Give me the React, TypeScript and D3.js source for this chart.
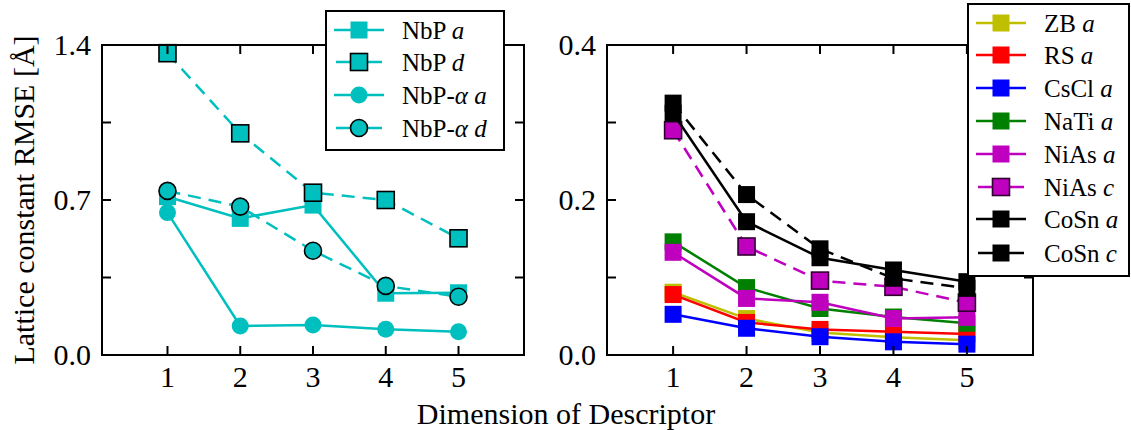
import React from "react";
import * as d3 from "d3";

// ---------- data ----------
const dims = [1, 2, 3, 4, 5];

// left panel (NbP)
const nbpA = [0.715, 0.617, 0.677, 0.279, 0.281];
const nbpD = [1.363, 1.001, 0.733, 0.7, 0.527];
const nbpAlphaA = [0.643, 0.131, 0.135, 0.116, 0.105];
const nbpAlphaD = [0.741, 0.67, 0.471, 0.312, 0.263];

// right panel
const zbA = [0.081, 0.047, 0.029, 0.023, 0.019];
const rsA = [0.078, 0.042, 0.033, 0.03, 0.027];
const csclA = [0.0525, 0.0345, 0.0236, 0.017, 0.014];
const natiA = [0.146, 0.087, 0.06, 0.049, 0.041];
const niasA = [0.1325, 0.073, 0.068, 0.047, 0.0486];
const niasC = [0.29, 0.14, 0.096, 0.088, 0.0675];
const cosnA = [0.312, 0.172, 0.1255, 0.1097, 0.0946];
const cosnC = [0.325, 0.207, 0.137, 0.099, 0.086];

const leftYTicks = [0, 0.35, 0.7, 1.05, 1.4];
const leftYLabels = ["0.0", "", "0.7", "", "1.4"];
const rightYTicks = [0, 0.1, 0.2, 0.3, 0.4];
const rightYLabels = ["0.0", "", "0.2", "", "0.4"];
const xTickLabels = ["1", "2", "3", "4", "5"];

const xLabel = "Dimension of Descriptor";
const yLabel = "Lattice constant RMSE [Å]";

type Series = {
  name: string;
  italic: string;
  values: number[];
  color: string;
  dashed: boolean;
  marker: "square" | "circle";
  edge: string | null;
};

const CYAN = "#00bfbf";
const leftSeries: Series[] = [
  { name: "NbP ", italic: "a", values: nbpA, color: CYAN, dashed: false, marker: "square", edge: null },
  { name: "NbP ", italic: "d", values: nbpD, color: CYAN, dashed: true, marker: "square", edge: "#000" },
  { name: "NbP-", italic: "α a", values: nbpAlphaA, color: CYAN, dashed: false, marker: "circle", edge: null },
  { name: "NbP-", italic: "α d", values: nbpAlphaD, color: CYAN, dashed: true, marker: "circle", edge: "#000" },
];

const rightSeries: Series[] = [
  { name: "ZB ", italic: "a", values: zbA, color: "#bfbf00", dashed: false, marker: "square", edge: null },
  { name: "RS ", italic: "a", values: rsA, color: "#ff0000", dashed: false, marker: "square", edge: null },
  { name: "CsCl ", italic: "a", values: csclA, color: "#0000ff", dashed: false, marker: "square", edge: null },
  { name: "NaTi ", italic: "a", values: natiA, color: "#008000", dashed: false, marker: "square", edge: null },
  { name: "NiAs ", italic: "a", values: niasA, color: "#bf00bf", dashed: false, marker: "square", edge: null },
  { name: "NiAs ", italic: "c", values: niasC, color: "#bf00bf", dashed: true, marker: "square", edge: "#300030" },
  { name: "CoSn ", italic: "a", values: cosnA, color: "#000000", dashed: false, marker: "square", edge: null },
  { name: "CoSn ", italic: "c", values: cosnC, color: "#000000", dashed: true, marker: "square", edge: null },
];

// ---------- layout ----------
const W = 1131;
const H = 430;
const TOP = 45;
const BOTTOM = 355;
const FONT = "'Liberation Serif', 'Times New Roman', serif";
const TICK_FS = 30;
const LEG_FS = 25;
const DASH = "13,8";
const MS = 17; // marker size
const TICK_LEN = 9;
const LW = 2.5;

function Marker({ s, x, y }: { s: Series; x: number; y: number }) {
  if (s.marker === "square") {
    return (
      <rect
        x={x - MS / 2}
        y={y - MS / 2}
        width={MS}
        height={MS}
        fill={s.color}
        stroke={s.edge ?? "none"}
        strokeWidth={s.edge ? 1.6 : 0}
      />
    );
  }
  return (
    <circle
      cx={x}
      cy={y}
      r={MS / 2}
      fill={s.color}
      stroke={s.edge ?? "none"}
      strokeWidth={s.edge ? 1.6 : 0}
    />
  );
}

function Panel({
  left,
  right,
  yMax,
  yTicks,
  yLabels,
  series,
}: {
  left: number;
  right: number;
  yMax: number;
  yTicks: number[];
  yLabels: string[];
  series: Series[];
}) {
  const x = d3.scaleLinear().domain([0.1, 5.9]).range([left, right]);
  const y = d3.scaleLinear().domain([0, yMax]).range([BOTTOM, TOP]);
  const line = d3
    .line<number>()
    .x((_, i) => x(dims[i]))
    .y((v) => y(v));
  return (
    <g>
      {series.map((s, si) => (
        <g key={si}>
          <path
            d={line(s.values) ?? ""}
            fill="none"
            stroke={s.color}
            strokeWidth={LW}
            strokeDasharray={s.dashed ? DASH : undefined}
          />
          {s.values.map((v, i) => (
            <Marker key={i} s={s} x={x(dims[i])} y={y(v)} />
          ))}
        </g>
      ))}
      {dims.map((d, i) => (
        <g key={"xt" + i}>
          <line x1={x(d)} x2={x(d)} y1={BOTTOM} y2={BOTTOM - TICK_LEN} stroke="#000" strokeWidth={2} />
          <line x1={x(d)} x2={x(d)} y1={TOP} y2={TOP + TICK_LEN} stroke="#000" strokeWidth={2} />
          <text x={x(d)} y={BOTTOM + 32} textAnchor="middle" fontFamily={FONT} fontSize={TICK_FS}>
            {xTickLabels[i]}
          </text>
        </g>
      ))}
      {yTicks.map((t, i) => (
        <g key={"yt" + i}>
          <line x1={left} x2={left + TICK_LEN} y1={y(t)} y2={y(t)} stroke="#000" strokeWidth={2} />
          <line x1={right} x2={right - TICK_LEN} y1={y(t)} y2={y(t)} stroke="#000" strokeWidth={2} />
          {yLabels[i] && (
            <text x={left - 11} y={y(t) + 10} textAnchor="end" fontFamily={FONT} fontSize={TICK_FS}>
              {yLabels[i]}
            </text>
          )}
        </g>
      ))}
      <rect
        x={left}
        y={TOP}
        width={right - left}
        height={BOTTOM - TOP}
        fill="none"
        stroke="#000"
        strokeWidth={2}
      />
    </g>
  );
}

function Legend({
  x0,
  y0,
  w,
  h,
  rows,
  series,
}: {
  x0: number;
  y0: number;
  w: number;
  h: number;
  rows: number[];
  series: Series[];
}) {
  const lx1 = x0 + 8;
  const lx2 = x0 + 58;
  const mx = x0 + 33;
  const tx = x0 + 76;
  return (
    <g>
      <rect x={x0} y={y0} width={w} height={h} fill="#fff" stroke="#000" strokeWidth={2} />
      {series.map((s, i) => (
        <g key={i}>
          <line
            x1={s.dashed ? lx1 + 2 : lx1}
            x2={s.dashed ? lx2 - 2 : lx2}
            y1={rows[i]}
            y2={rows[i]}
            stroke={s.color}
            strokeWidth={LW}
          />
          <Marker s={s} x={mx} y={rows[i]} />
          <text x={tx} y={rows[i] + 9} fontFamily={FONT} fontSize={LEG_FS}>
            {s.name}
            <tspan fontStyle="italic">{s.italic}</tspan>
          </text>
        </g>
      ))}
    </g>
  );
}

export default function App() {
  const leftRows = [30, 62, 95, 128];
  const rightRows = [23, 55, 88, 121, 154, 187, 219, 253];
  return (
    <svg
      width={W}
      height={H}
      viewBox={`0 0 ${W} ${H}`}
      style={{ position: "absolute", left: 0, top: 0, background: "#fff" }}
    >
      <rect x={0} y={0} width={W} height={H} fill="#fff" />
      <Panel left={102} right={524} yMax={1.4} yTicks={leftYTicks} yLabels={leftYLabels} series={leftSeries} />
      <Panel left={607} right={1033} yMax={0.4} yTicks={rightYTicks} yLabels={rightYLabels} series={rightSeries} />
      <Legend x0={326} y0={11} w={178} h={139} rows={leftRows} series={leftSeries} />
      <Legend x0={968} y0={4} w={161} h={272} rows={rightRows} series={rightSeries} />
      <text x={566} y={424} textAnchor="middle" fontFamily={FONT} fontSize={TICK_FS}>
        {xLabel}
      </text>
      <text
        transform={`translate(34, 200) rotate(-90)`}
        textAnchor="middle"
        fontFamily={FONT}
        fontSize={TICK_FS}
      >
        {yLabel}
      </text>
    </svg>
  );
}
